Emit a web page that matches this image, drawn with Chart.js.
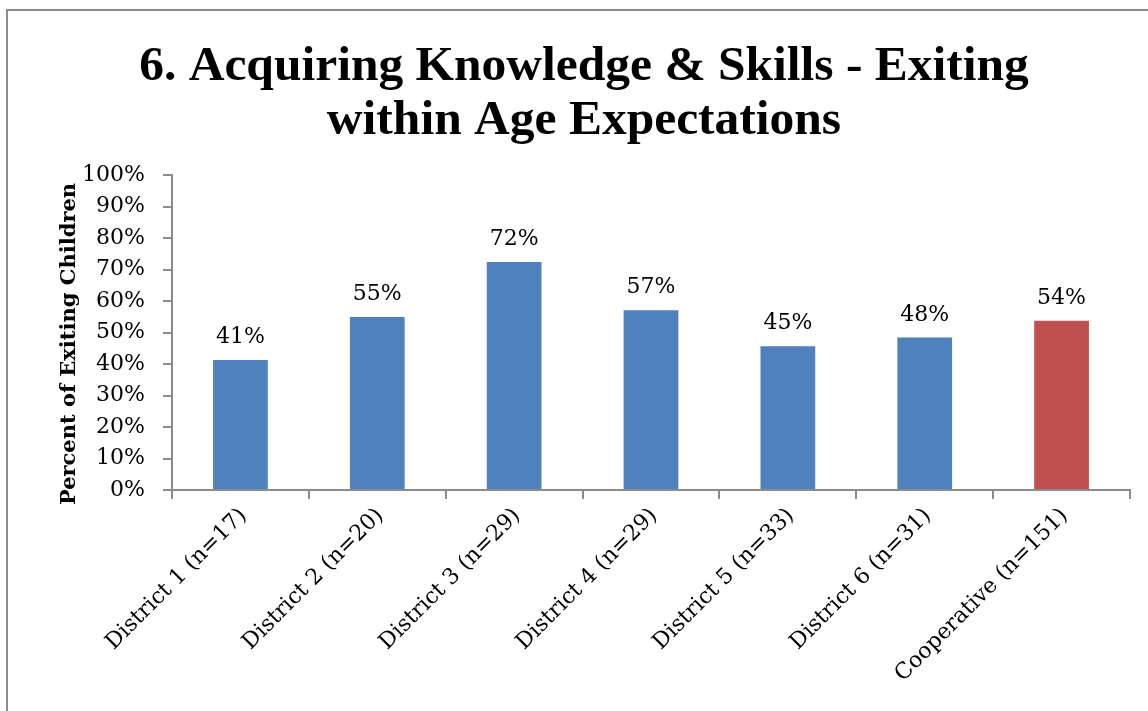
<!DOCTYPE html>
<html><head><meta charset="utf-8">
<script src="https://cdn.jsdelivr.net/npm/chart.js@4.4.0/dist/chart.umd.min.js"></script>
<style>
html,body{margin:0;padding:0;background:#fff;overflow:hidden}
#wrap{position:absolute;left:0;top:0;width:1148px;height:711px;overflow:hidden}
#frame{position:absolute;left:6px;top:9px;width:1300px;height:900px;border-left:2px solid #8c8c8c;border-top:2px solid #8c8c8c}
canvas{position:absolute;left:0;top:0}
</style></head><body>
<div id="wrap"><div id="frame"></div><canvas id="c" width="1148" height="711"></canvas></div>
<script>
const categories = ['District 1 (n=17)','District 2 (n=20)','District 3 (n=29)','District 4 (n=29)','District 5 (n=33)','District 6 (n=31)','Cooperative (n=151)'];
const values = [41.3, 54.9, 72.4, 57.1, 45.6, 48.4, 53.7];
const valueLabels = ['41%','55%','72%','57%','45%','48%','54%'];
const barColors = ['#4F81BD','#4F81BD','#4F81BD','#4F81BD','#4F81BD','#4F81BD','#C0504D'];
const yTickValues = [0,10,20,30,40,50,60,70,80,90,100];
const titleLines = ['6. Acquiring Knowledge & Skills - Exiting','within Age Expectations'];
const yTitle = 'Percent of Exiting Children';

const TITLE_FONT = '"Liberation Serif", "DejaVu Serif", serif';
const BODY_FONT = '"DejaVu Serif", "Liberation Serif", serif';

const extraText = {
  id: 'extraText',
  afterDatasetsDraw(chart) {
    const ctx = chart.ctx;
    const meta = chart.getDatasetMeta(0);
    ctx.save();
    ctx.fillStyle = '#000';
    ctx.font = '22px ' + BODY_FONT;
    ctx.textAlign = 'center';
    ctx.textBaseline = 'alphabetic';
    meta.data.forEach((bar, i) => {
      ctx.fillText(valueLabels[i], bar.x, bar.y - 17);
    });
    ctx.restore();
  },
  afterDraw(chart) {
    const ctx = chart.ctx;
    ctx.save();
    ctx.fillStyle = '#000';
    ctx.textAlign = 'center';
    ctx.textBaseline = 'alphabetic';
    ctx.font = 'bold 49.5px ' + TITLE_FONT;
    ctx.fillText(titleLines[0], 584, 80);
    ctx.fillText(titleLines[1], 584, 134);
    ctx.translate(75, 344);
    ctx.rotate(-Math.PI/2);
    ctx.font = 'bold 21px ' + BODY_FONT;
    ctx.fillText(yTitle, 0, 0);
    ctx.restore();
  }
};

new Chart(document.getElementById('c'), {
  type: 'bar',
  data: {
    labels: categories,
    datasets: [{
      data: values,
      backgroundColor: barColors,
      borderWidth: 0,
      categoryPercentage: 1.0,
      barPercentage: 0.4
    }]
  },
  options: {
    responsive: false,
    animation: false,
    devicePixelRatio: 1,
    layout: { padding: { top: 175, left: 0, right: 18, bottom: 0 } },
    plugins: { legend: { display: false }, tooltip: { enabled: false }, title: { display: false } },
    scales: {
      x: {
        afterFit(s) { s.height = 221; },
        grid: { display: true, drawOnChartArea: false, offset: true, tickLength: 9, color: '#8c8c8c', lineWidth: 2 },
        border: { display: true, color: '#8c8c8c', width: 2 },
        ticks: { font: { family: BODY_FONT, size: 22 }, color: '#000', minRotation: 45, maxRotation: 45, padding: 4, labelOffset: 3, autoSkip: false }
      },
      y: {
        min: 0, max: 100,
        afterFit(s) { s.width = 172; },
        afterBuildTicks(s) { s.ticks = yTickValues.map(v => ({ value: v })); },
        grid: { display: true, drawOnChartArea: false, tickLength: 9, color: '#8c8c8c', lineWidth: 2 },
        border: { display: true, color: '#8c8c8c', width: 2 },
        ticks: { font: { family: BODY_FONT, size: 22 }, color: '#000', padding: 18, autoSkip: false, callback: v => v + '%' }
      }
    }
  },
  plugins: [extraText]
});
</script>
</body></html>
